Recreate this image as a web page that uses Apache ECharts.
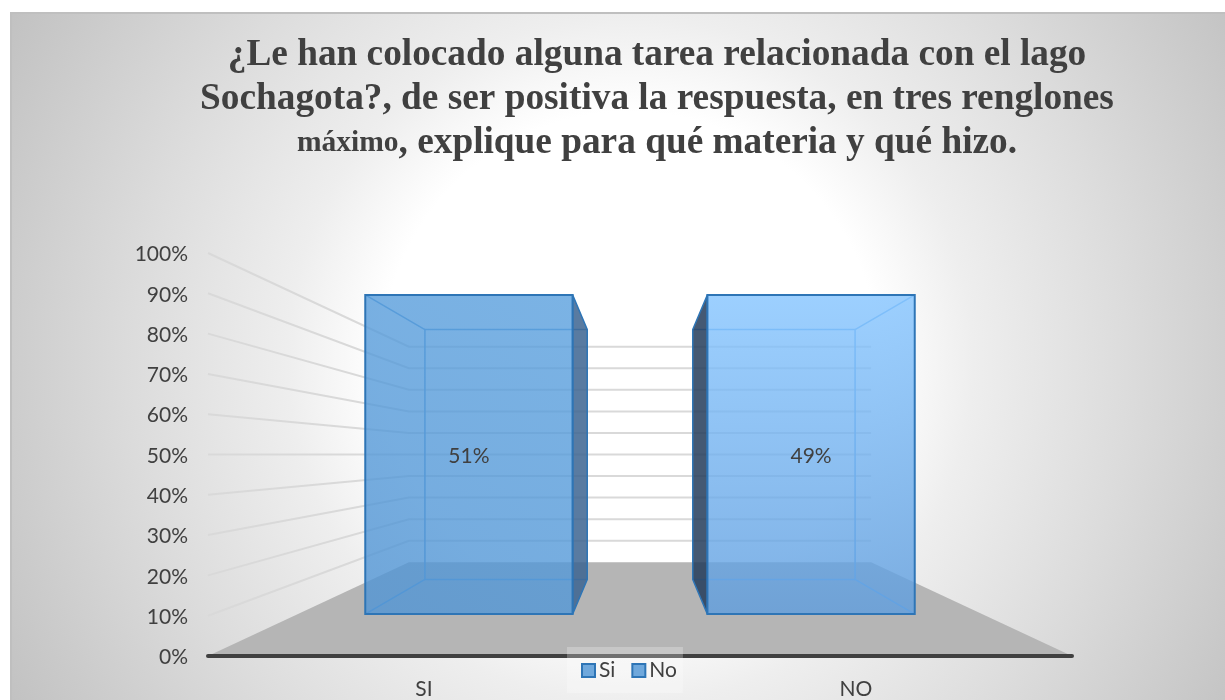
<!DOCTYPE html>
<html>
<head>
<meta charset="utf-8">
<title>Lago Sochagota</title>
<style>
  html, body { margin: 0; padding: 0; background: #fff; }
  #main { width: 1225px; height: 700px; }
</style>
<script src="https://cdn.jsdelivr.net/npm/echarts@6/dist/echarts.min.js"></script>
</head>
<body>
<div id="main"></div>
<script>
var titleLine1 = '¿Le han colocado alguna tarea relacionada con el lago';
var titleLine2 = 'Sochagota?, de ser positiva la respuesta, en tres renglones';
var titleSmall = 'máximo';
var titleLine3 = ', explique para qué materia y qué hizo.';

var categories = ['SI', 'NO'];
var seriesNames = ['Si', 'No'];
// printed shares; both columns reach the top of the axis in the picture
var shareLabels = [51, 49];
var barTops = [100, 100];
var yTicks = [0, 10, 20, 30, 40, 50, 60, 70, 80, 90, 100];

// perspective depth, 1 = front plane of the axes
var WALL_DEPTH = 0.535;
var BAR_FRONT = 0.792;
var BAR_BACK = 0.62;
var BAR_HALF = 0.303;

var FONT = 'Lato, "Open Sans", sans-serif';

function project(cs, x, y, s) {
  var vx = cs.x + cs.width / 2;
  var vy = cs.y + cs.height / 2;
  return [vx + s * (x - vx), vy + s * (y - vy)];
}

function renderFloor(params, api) {
  var cs = params.coordSys;
  var y0 = api.coord([0, 0])[1];
  var l = cs.x, r = cs.x + cs.width;
  return {
    type: 'polygon',
    shape: { points: [[l, y0], [r, y0], project(cs, r, y0, WALL_DEPTH), project(cs, l, y0, WALL_DEPTH)] },
    style: { fill: '#b5b5b5' }
  };
}

function renderGridline(params, api) {
  var cs = params.coordSys;
  var y = api.coord([0, api.value(1)])[1];
  var l = cs.x, r = cs.x + cs.width;
  return {
    type: 'polyline',
    shape: { points: [[l, y], project(cs, l, y, WALL_DEPTH), project(cs, r, y, WALL_DEPTH)] },
    style: { stroke: '#d9d9d9', lineWidth: 2, fill: 'none' }
  };
}

function barRenderer(look) {
  return function (params, api) {
    var cs = params.coordSys;
    var cx = api.coord([api.value(0), 0])[0];
    var band = cs.width / categories.length;
    var xa = cx - BAR_HALF * band, xb = cx + BAR_HALF * band;
    var yTop = api.coord([0, api.value(1)])[1];
    var yBase = api.coord([0, 0])[1];

    var fa = project(cs, xa, yTop, BAR_FRONT), fb = project(cs, xb, yBase, BAR_FRONT);
    var ba = project(cs, xa, yTop, BAR_BACK), bb = project(cs, xb, yBase, BAR_BACK);

    // side that faces the middle of the chart, and the outer one
    var leftBar = cx < cs.x + cs.width / 2;
    var fi = leftBar ? fb[0] : fa[0], bi = leftBar ? bb[0] : ba[0];
    var fo = leftBar ? fa[0] : fb[0], bo = leftBar ? ba[0] : bb[0];
    var yt = fa[1], yb = fb[1], ybt = ba[1], ybb = bb[1];

    var line = { stroke: look.inner, lineWidth: 1.5, fill: 'none' };
    var kids = [
      { type: 'polyline', shape: { points: [[bi, ybt], [bo, ybt], [bo, ybb], [bi, ybb]] }, style: line },
      { type: 'line', shape: { x1: fo, y1: yt, x2: bo, y2: ybt }, style: line },
      { type: 'line', shape: { x1: fo, y1: yb, x2: bo, y2: ybb }, style: line },
      { type: 'polygon', shape: { points: [[fi, yt], [bi, ybt], [bi, ybb], [fi, yb]] },
        style: { fill: look.side, stroke: '#2e75b6', lineWidth: 1.5, lineJoin: 'bevel' } },
      { type: 'rect', shape: { x: fa[0], y: yt, width: fb[0] - fa[0], height: yb - yt },
        style: {
          fill: new echarts.graphic.LinearGradient(leftBar ? 1 : 0, 0, 0, 1, [
            { offset: 0, color: look.top },
            { offset: 1, color: look.bottom }
          ]),
          stroke: '#2e75b6', lineWidth: 2
        } },
      { type: 'text', x: (fa[0] + fb[0]) / 2, y: api.coord([0, 50])[1] + 1.5,
        style: { text: api.value(2) + '%', fill: '#404040', font: '21px ' + FONT, align: 'center', verticalAlign: 'middle' } }
    ];
    return { type: 'group', children: kids };
  };
}

var chart = echarts.init(document.getElementById('main'), null, { renderer: 'canvas' });

var option = {
  animation: false,
  backgroundColor: '#ffffff',
  graphic: {
    elements: [{
      type: 'rect',
      z: -10,
      silent: true,
      shape: { x: 11, y: 13, width: 1216, height: 690 },
      style: {
        fill: new echarts.graphic.RadialGradient(630, 360, 730, [
          { offset: 0, color: '#ffffff' },
          { offset: 0.34, color: '#ffffff' },
          { offset: 0.47, color: '#eeeeee' },
          { offset: 0.68, color: '#dcdcdc' },
          { offset: 1, color: '#bfbfbf' }
        ], true),
        stroke: '#bfbfbf',
        lineWidth: 2
      }
    }]
  },
  title: {
    left: 652,
    top: 28,
    textAlign: 'center',
    text: '{a|' + titleLine1 + '}\n{a|' + titleLine2 + '}\n{b|' + titleSmall + '}{a|' + titleLine3 + '}',
    textStyle: {
      rich: {
        a: { fontFamily: '"Liberation Serif", serif', fontWeight: 'bold', fontSize: 37.3, color: '#404040', lineHeight: 44 },
        b: { fontFamily: '"Liberation Serif", serif', fontWeight: 'bold', fontSize: 29.5, color: '#404040', lineHeight: 44 }
      }
    }
  },
  legend: {
    left: 567,
    top: 647,
    padding: [13, 6, 12, 14],
    itemGap: 16,
    itemWidth: 13,
    itemHeight: 13,
    icon: 'rect',
    z: 10,
    backgroundColor: 'rgba(255,255,255,0.25)',
    textStyle: { fontFamily: FONT, fontSize: 21, color: '#404040', padding: [0, 0, 0, -1] },
    data: [
      { name: seriesNames[0], itemStyle: { color: '#6fa8dc', borderColor: '#2e75b6', borderWidth: 2 } },
      { name: seriesNames[1], itemStyle: { color: '#6fa8dc', borderColor: '#2e75b6', borderWidth: 2 } }
    ],
    selectedMode: false
  },
  grid: { left: 208, right: 153, top: 253, bottom: 43.5 },
  xAxis: {
    type: 'category',
    data: categories,
    z: 5,
    axisTick: { show: false },
    axisLine: { lineStyle: { color: '#404040', width: 4, cap: 'round' } },
    axisLabel: { fontFamily: FONT, fontSize: 21, color: '#404040', margin: 23 }
  },
  yAxis: {
    type: 'value',
    min: 0,
    max: 100,
    interval: 10,
    axisLine: { show: false },
    axisTick: { show: false },
    splitLine: { show: false },
    axisLabel: {
      margin: 20,
      formatter: '{v|{value}%}',
      rich: { v: { fontFamily: FONT, fontSize: 21, color: '#404040', padding: [3, 0, 0, 0] } }
    }
  },
  series: [
    { type: 'custom', z: 1, silent: true, clip: false, renderItem: renderFloor, data: [[0, 0]], encode: { x: 0, y: 1 } },
    { type: 'custom', z: 1, silent: true, clip: false, renderItem: renderGridline,
      data: yTicks.slice(1).map(function (t) { return [0, t]; }), encode: { x: 0, y: 1 } },
    {
      type: 'custom', name: seriesNames[0], z: 3, silent: true, clip: false,
      renderItem: barRenderer({ top: 'rgba(90,160,222,0.8)', bottom: 'rgba(80,148,212,0.8)', side: 'rgba(60,100,145,0.85)', inner: '#5b9bd5' }),
      data: [[0, barTops[0], shareLabels[0]]],
      encode: { x: 0, y: 1 }
    },
    {
      type: 'custom', name: seriesNames[1], z: 3, silent: true, clip: false,
      renderItem: barRenderer({ top: 'rgba(132,196,255,0.8)', bottom: 'rgba(94,157,222,0.8)', side: 'rgba(35,60,90,0.85)', inner: '#6fb0ee' }),
      data: [[1, barTops[1], shareLabels[1]]],
      encode: { x: 0, y: 1 }
    }
  ]
};

chart.setOption(option);
</script>
</body>
</html>
